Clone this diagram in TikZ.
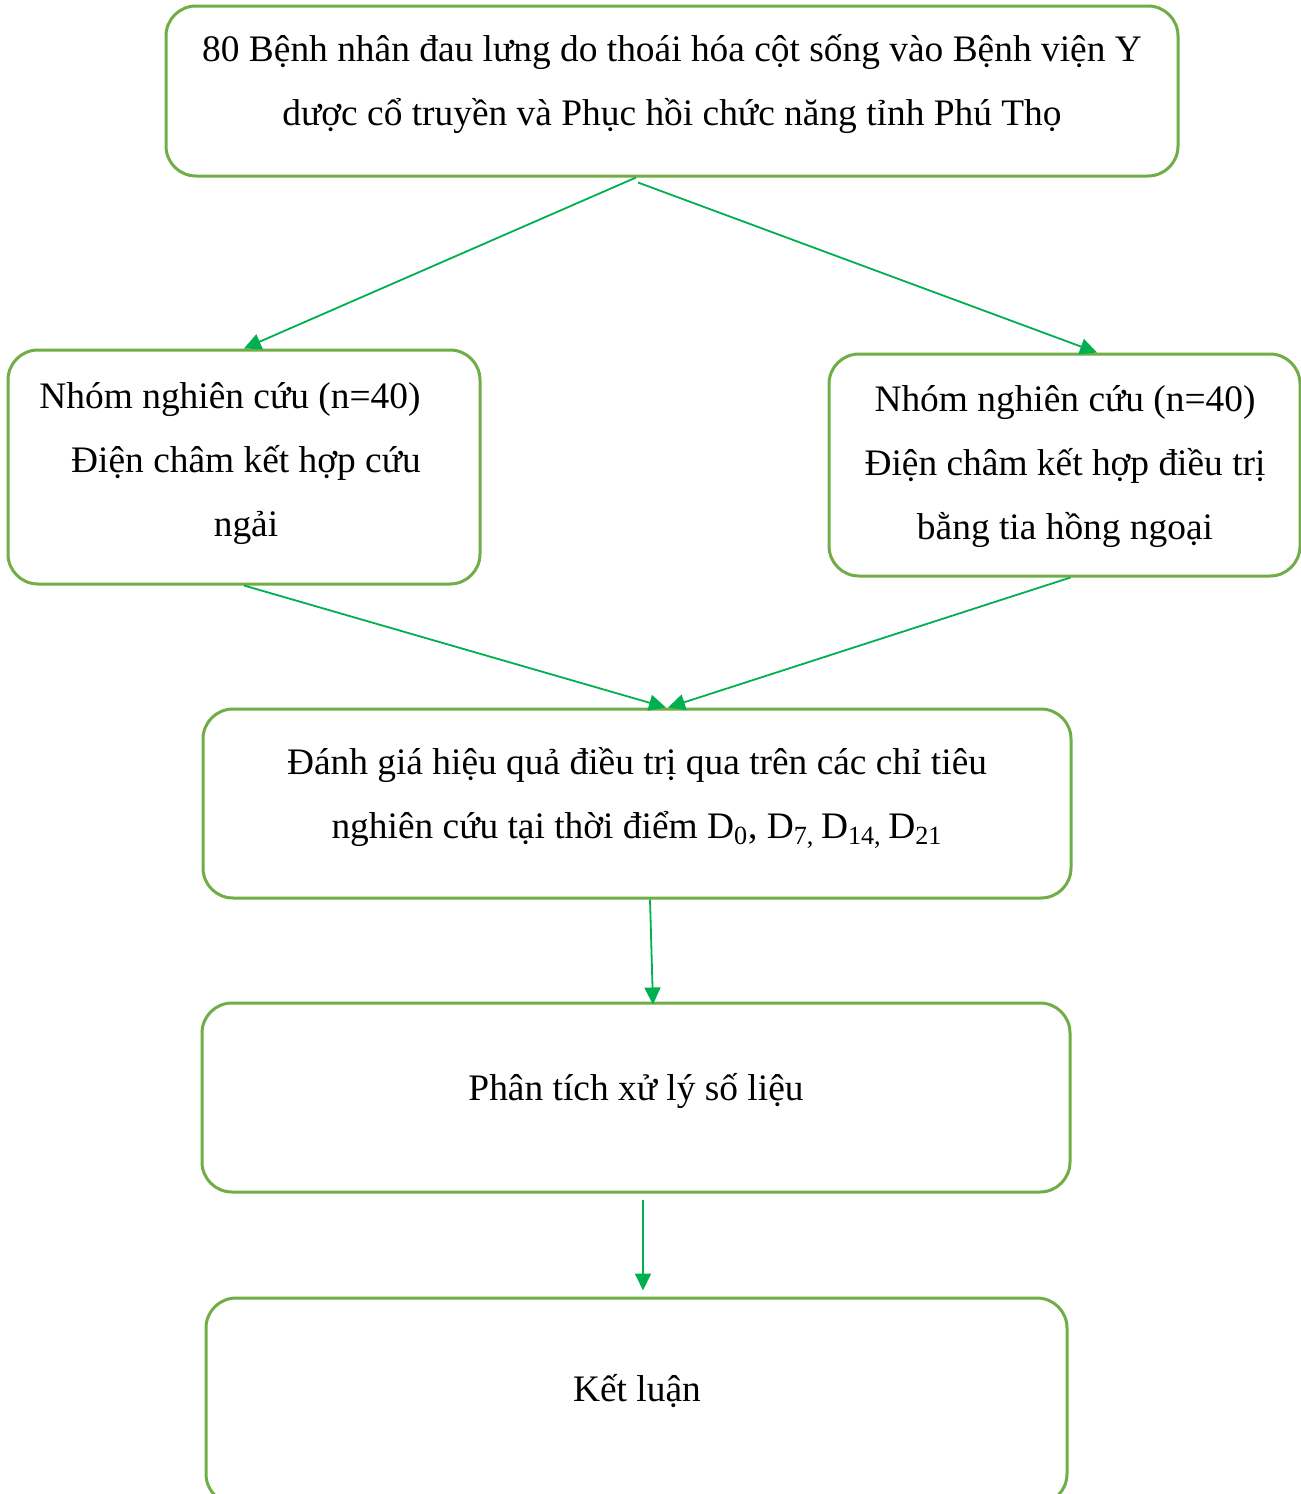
\documentclass[tikz,border=0pt]{standalone}
\usepackage{fontspec}
\setmainfont{Liberation Serif}
\usetikzlibrary{arrows.meta}
\definecolor{boxgreen}{HTML}{70AD47}
\definecolor{arrowgreen}{HTML}{00B050}
\tikzset{
  stagebox/.style={draw=boxgreen, line width=1.5pt, rounded corners=15pt, inner sep=0pt},
  stagetext/.style={align=center, font=\fontsize{18.7}{32}\selectfont, inner sep=0pt},
  flowarrow/.style={draw=arrowgreen, line width=0.9pt, -{Triangle[length=8.5pt,width=8pt]}},
}
\begin{document}
\begin{tikzpicture}[x=0.5pt, y=-0.5pt]
\useasboundingbox (0,0) rectangle (1301,1494);
% ---- boxes ----
\node[stagebox, minimum width=506pt, minimum height=85pt] (patients) at (672,91) {};
\node[stagebox, minimum width=236pt, minimum height=117pt] (moxa) at (244,467) {};
\node[stagebox, minimum width=235.5pt, minimum height=111pt] (infrared) at (1064.5,465) {};
\node[stagebox, minimum width=434pt, minimum height=94.5pt] (assess) at (637,803.5) {};
\node[stagebox, minimum width=434pt, minimum height=94.5pt] (analysis) at (636,1097.5) {};
\node[stagebox, minimum width=430.5pt, minimum height=103pt] (concl) at (636.5,1401) {};
% ---- texts ----
\node[stagetext] (patientstext) at (672,84)
  {80 Bệnh nhân đau lưng do thoái hóa cột sống vào Bệnh viện Y\\dược cổ truyền và Phục hồi chức năng tỉnh Phú Thọ};
\node[stagetext] (moxatext) at (246,464)
  {Nhóm nghiên cứu (n=40)\hspace*{16pt}\\Điện châm kết hợp cứu\\ngải};
\node[stagetext] (infraredtext) at (1065,467)
  {Nhóm nghiên cứu (n=40)\\Điện châm kết hợp điều trị\\bằng tia hồng ngoại};
\node[stagetext] (assesstext) at (637,798)
  {Đánh giá hiệu quả điều trị qua trên các chỉ tiêu\\nghiên cứu tại thời điểm D\textsubscript{0}, D\textsubscript{7, }D\textsubscript{14, }D\textsubscript{21}};
\node[stagetext] (analysistext) at (636,1091) {Phân tích xử lý số liệu};
\node[stagetext] (concltext) at (637,1391) {Kết luận};
% ---- arrows ----
\draw[flowarrow] ([xshift=-18pt]patients.south) -- (moxa.north);
\draw[flowarrow] ([xshift=-17pt,yshift=-2.5pt]patients.south) -- ([xshift=16.25pt]infrared.north);
\draw[flowarrow] (moxa.south) -- ([xshift=14.5pt]assess.north);
\draw[flowarrow] ([xshift=3pt]infrared.south) -- ([xshift=15.5pt]assess.north);
\draw[flowarrow] ([xshift=6.5pt]assess.south) -- ([xshift=8.5pt,yshift=-1.5pt]analysis.north);
\draw[flowarrow] ([xshift=3.5pt,yshift=-3pt]analysis.south) -- ([xshift=3.25pt,yshift=3pt]concl.north);
\end{tikzpicture}
\end{document}
